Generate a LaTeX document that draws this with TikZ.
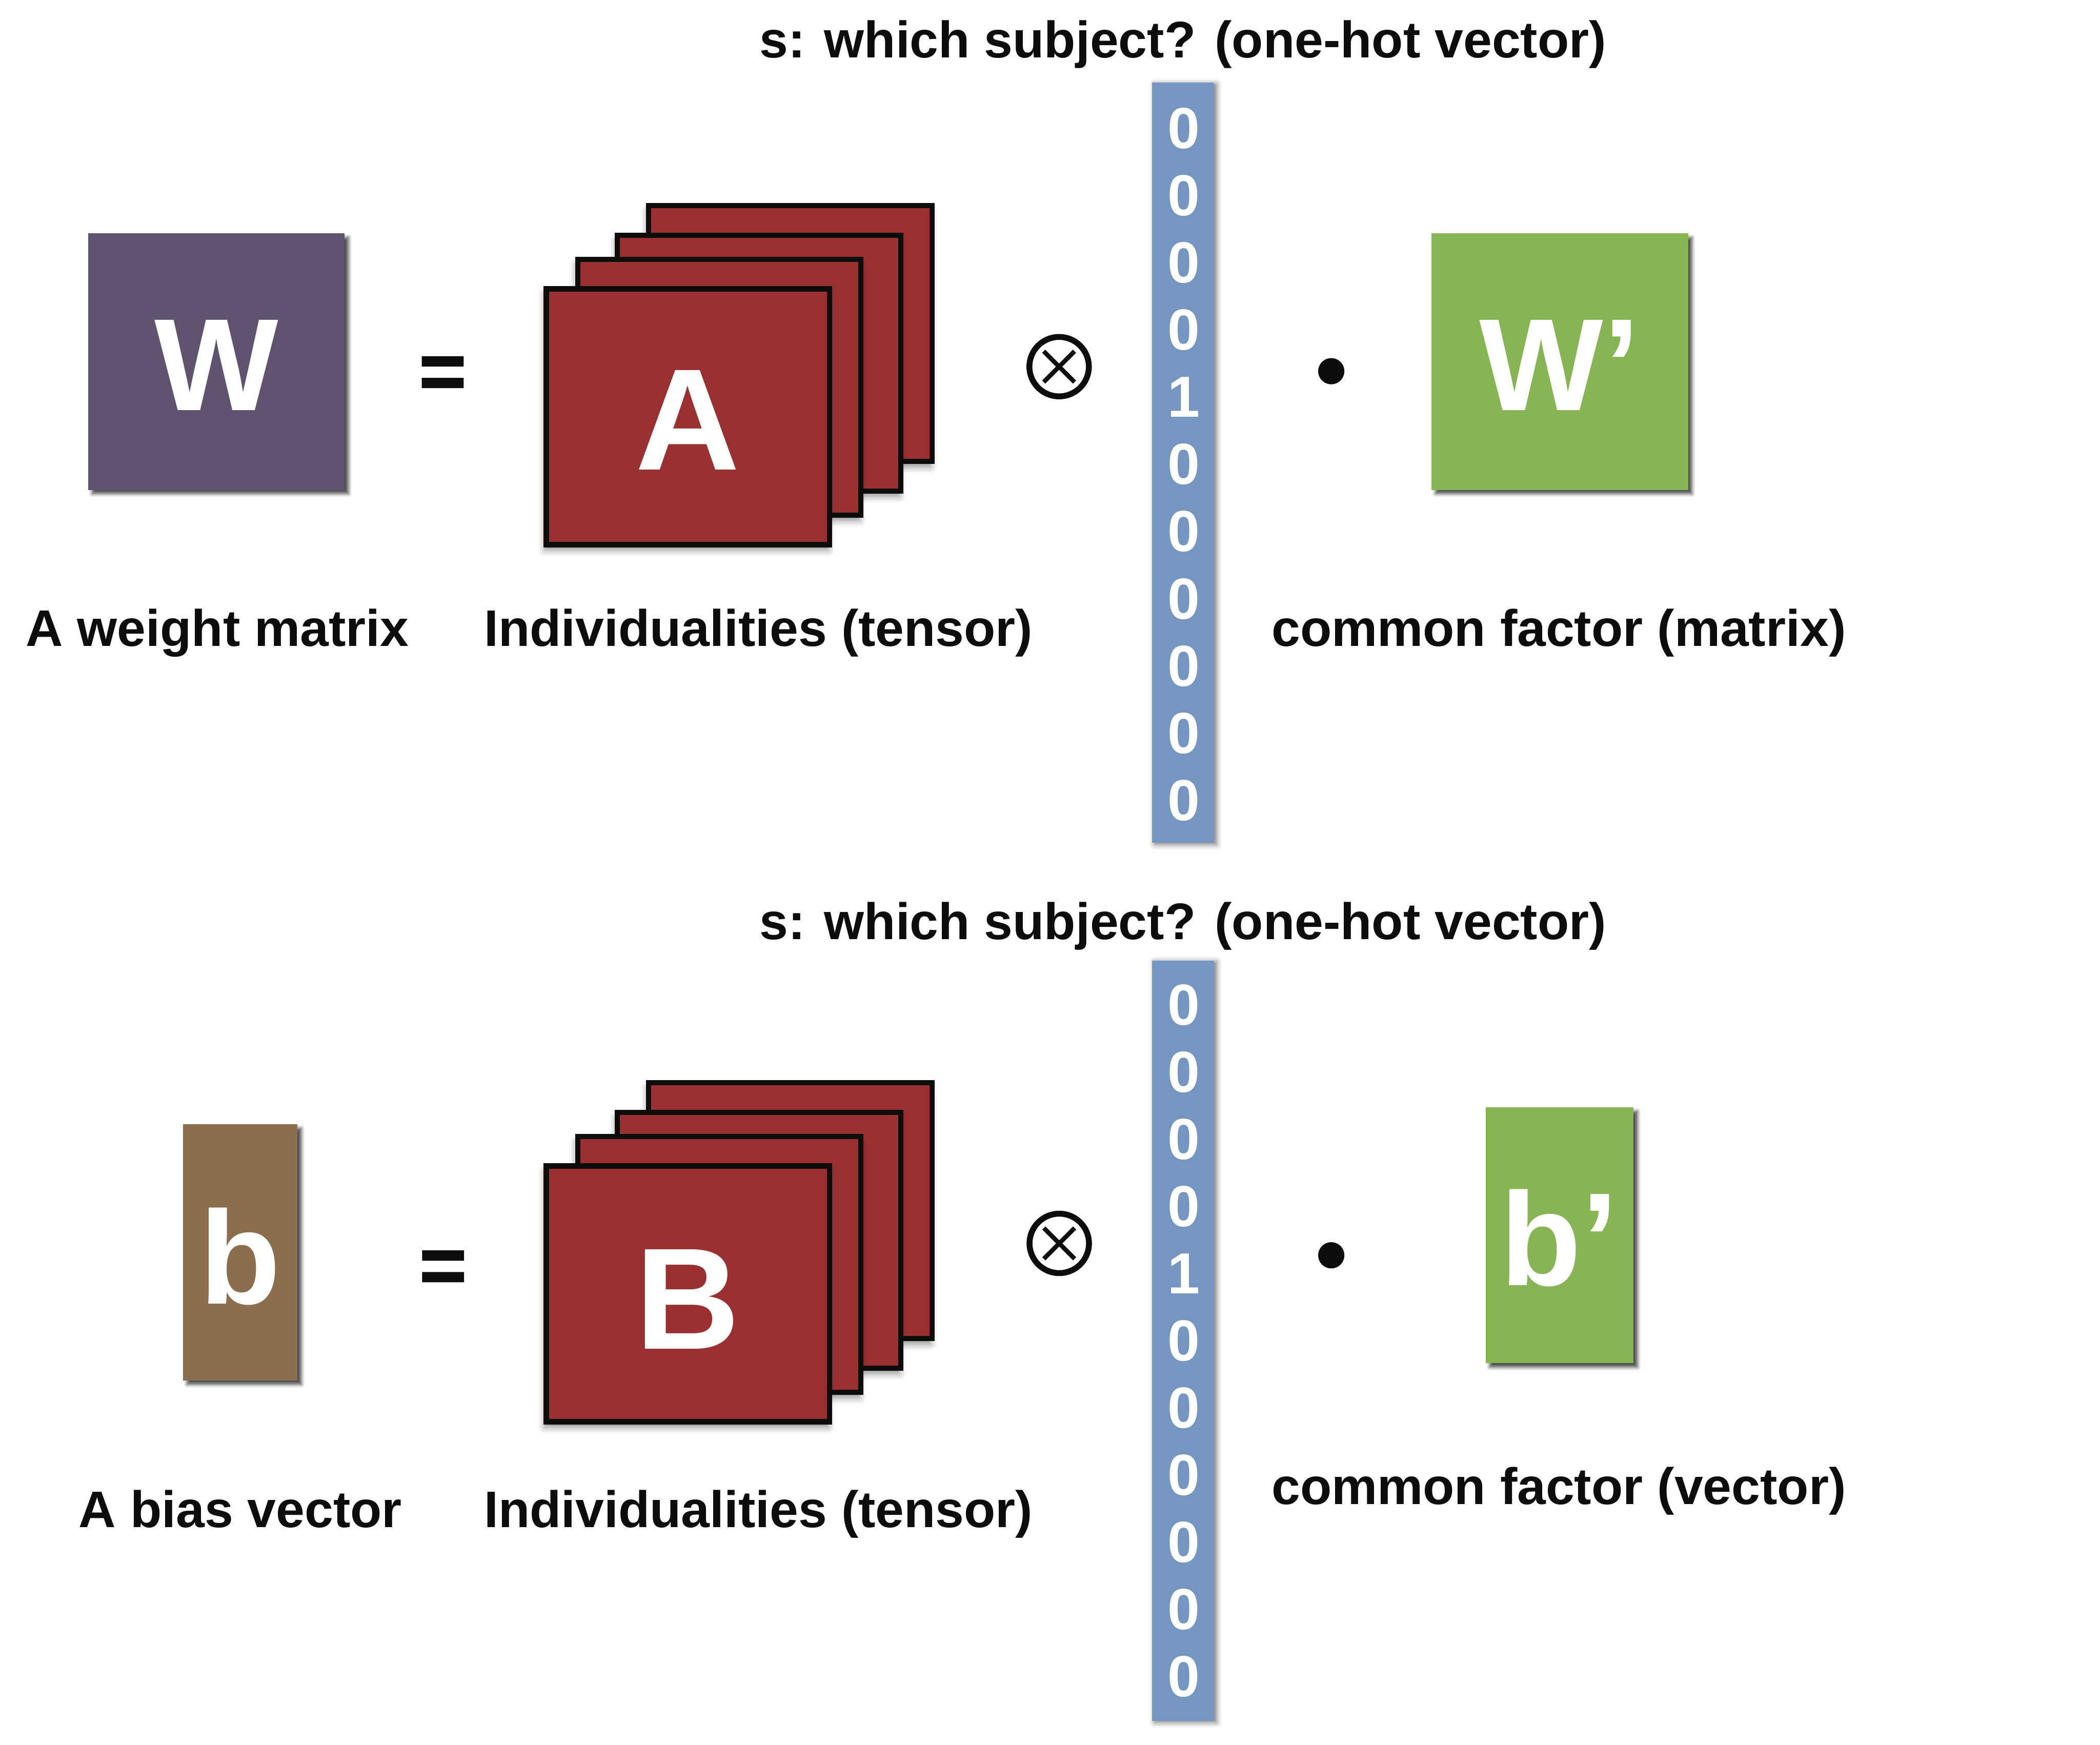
\documentclass[tikz,border=0pt]{standalone}
\usepackage{fontspec}
\setmainfont{Liberation Sans}
\newfontfamily\eqfont[FakeBold=2]{Liberation Sans Bold}
\usetikzlibrary{shadows.blur}
\definecolor{ink}{HTML}{0D0D0B}
\definecolor{wpurple}{HTML}{605370}
\definecolor{bbrown}{HTML}{8C6D4E}
\definecolor{cgreen}{HTML}{88B553}
\definecolor{cred}{HTML}{9B3030}
\definecolor{vblue}{HTML}{7496C0}
\begin{document}
\begin{tikzpicture}[x=1pt,y=-1pt,
  lbl/.style={font=\fontsize{38.4}{46}\selectfont\bfseries, text=ink, inner sep=0pt, anchor=base},
  flatbox/.style={rectangle, inner sep=0pt, text=white, text depth=0pt,
    blur shadow={shadow xshift=3pt, shadow yshift=-3pt, shadow blur radius=2.5pt, shadow opacity=70}},
  bigletter/.style={font=\fontsize{98}{110}\selectfont\bfseries},
  card/.style={rectangle, inner sep=0pt, draw=ink, line width=3.9pt, fill=cred,
    minimum width=211.5pt, minimum height=191pt, text=white, text depth=0pt,
    font=\fontsize{108}{120}\selectfont\bfseries,
    blur shadow={shadow xshift=-1pt, shadow yshift=-4pt, shadow blur radius=5pt, shadow opacity=45}},
  vecbar/.style={rectangle, inner sep=0pt, fill=vblue, minimum width=46pt,
    blur shadow={shadow xshift=2pt, shadow yshift=-1pt, shadow blur radius=4pt, shadow opacity=55}},
  digit/.style={font=\fontsize{43.3}{50}\selectfont\bfseries, text=white, inner sep=0pt, anchor=base},
  otimes/.style={circle, draw=ink, line width=4.4pt, minimum size=44.4pt, inner sep=0pt},
  dotop/.style={circle, fill=ink, minimum size=19.6pt, inner sep=0pt},
  eqsign/.style={font=\fontsize{60}{70}\selectfont\eqfont, text=ink, inner sep=0pt, anchor=base},
]
\useasboundingbox (0,0) rectangle (1568,1303);

% ---------- top row ----------
\node[lbl] (title1) at (883.2,43.2) {s: which subject? (one-hot vector)};

\node[flatbox, fill=wpurple, minimum width=191.5pt, minimum height=191.6pt,
      bigletter, text height=72.8pt] (Wbox) at (161.55,270.0) {W};
\node[eqsign] (eq1) at (330.5,297.8) {=};

\node[card] (A4) at (590.05,249.1) {};
\node[card] (A3) at (566.7,271.1) {};
\node[card] (A2) at (537.05,289.1) {};
\node[card, text height=79.6pt] (A1) at (513.6,311.2) {A};

\node[otimes] (ot1) at (790.8,273.8) {};
\draw[ink, line width=3.3pt] ([shift={(-11.5,-11.5)}]ot1.center) -- ([shift={(11.5,11.5)}]ot1.center);
\draw[ink, line width=3.3pt] ([shift={(-11.5,11.5)}]ot1.center) -- ([shift={(11.5,-11.5)}]ot1.center);

\node[vecbar, minimum height=567.8pt] (s1) at (883.3,345.6) {};
\foreach \v [count=\i from 0] in {0,0,0,0,1,0,0,0,0,0,0}
  \node[digit] (s1d\i) at (884,111+50.15*\i) {\v};

\node[dotop] (dot1) at (994,277.2) {};

\node[flatbox, fill=cgreen, minimum width=191.6pt, minimum height=191.5pt,
      bigletter, text height=72.5pt] (Wpbox) at (1164.6,270.05) {W’};

\node[lbl] (labW) at (162.3,482.6) {A weight matrix};
\node[lbl] (labA) at (566.3,482.6) {Individualities (tensor)};
\node[lbl] (labWp) at (1163.9,482.6) {common factor (matrix)};

% ---------- bottom row ----------
\node[lbl] (title2) at (883.2,701.6) {s: which subject? (one-hot vector)};

\node[flatbox, fill=bbrown, minimum width=85.5pt, minimum height=191.5pt,
      font=\fontsize{99}{110}\selectfont\bfseries, text height=76.9pt] (bbox) at (179.35,935.15) {b};
\node[eqsign] (eq2) at (330.8,965.5) {=};

\node[card] (B4) at (590.05,904.1) {};
\node[card] (B3) at (566.7,926.1) {};
\node[card] (B2) at (537.05,944.1) {};
\node[card, text height=82.4pt] (B1) at (513.6,966.2) {B};

\node[otimes] (ot2) at (790.9,928.5) {};
\draw[ink, line width=3.3pt] ([shift={(-11.5,-11.5)}]ot2.center) -- ([shift={(11.5,11.5)}]ot2.center);
\draw[ink, line width=3.3pt] ([shift={(-11.5,11.5)}]ot2.center) -- ([shift={(11.5,-11.5)}]ot2.center);

\node[vecbar, minimum height=567.9pt] (s2) at (883.3,1001.25) {};
\foreach \v [count=\i from 0] in {0,0,0,0,1,0,0,0,0,0,0}
  \node[digit] (s2d\i) at (884,765.5+50.15*\i) {\v};

\node[dotop] (dot2) at (994,937.4) {};

\node[flatbox, fill=cgreen, minimum width=110.5pt, minimum height=191.3pt,
      font=\fontsize{99}{110}\selectfont\bfseries, text height=75.3pt] (bpbox) at (1164.45,922.35) {b’};

\node[lbl] (labb) at (179.5,1140.6) {A bias vector};
\node[lbl] (labB) at (566.3,1140.6) {Individualities (tensor)};
\node[lbl] (labbp) at (1163.9,1123.5) {common factor (vector)};
\end{tikzpicture}
\end{document}
